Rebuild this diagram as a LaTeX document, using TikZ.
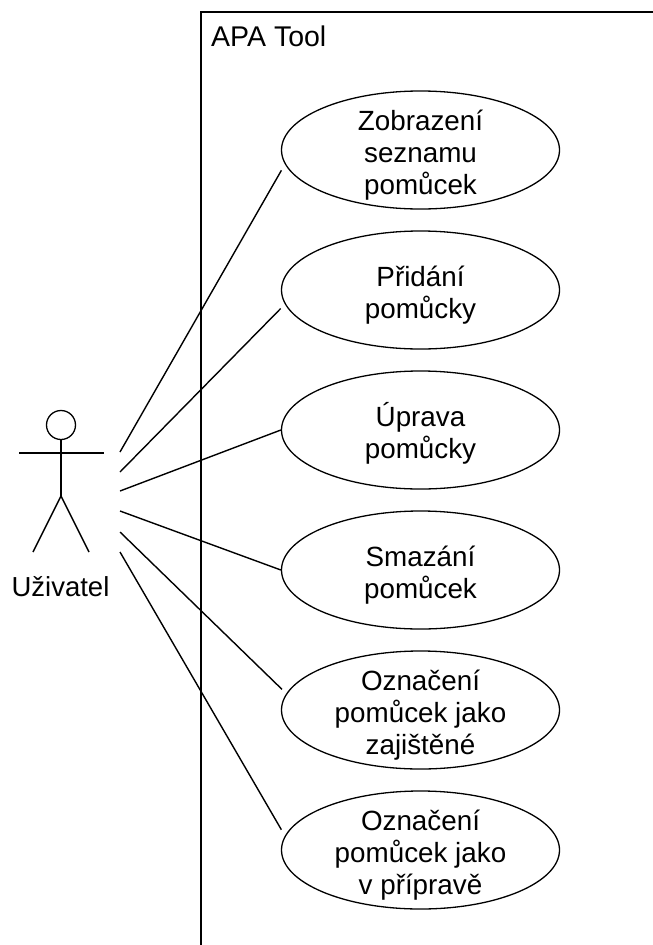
\documentclass[tikz,border=0pt]{standalone}
\usepackage{fontspec}
\setmainfont{Liberation Sans}
\usetikzlibrary{shapes.geometric}
\newcommand{\toprow}{\rule{0pt}{27pt}}
\tikzset{
	usecase/.style={draw, ellipse, line width=1.3pt, minimum width=278pt, minimum height=118pt, inner sep=0pt},
	uctext/.style={inner sep=0pt, yshift=-2pt, align=center, font=\fontsize{27.8}{32}\selectfont},
	assoc/.style={line width=1.4pt},
	limb/.style={line width=1.4pt}
}
\begin{document}
\begin{tikzpicture}[x=1pt, y=-1pt]
	\useasboundingbox (0, 0) rectangle (653, 945);
	\coordinate (BT) at (653, 12);
	\coordinate (BC) at (201, 12);
	\coordinate (BB) at (201, 945);
	\draw[line width=1.8pt] (BT) -- (BC) -- (BB);
	\node[anchor=base west, inner sep=0pt, font=\fontsize{28.5}{32}\selectfont] (tool)at(211, 46) {APA Tool};
	\node[usecase, label={[uctext]center:{\toprow Zobrazení\\seznamu\\pomůcek}}] (UC1)at(420.5, 150) {};
	\node[usecase, label={[uctext]center:{\toprow Přidání\\pomůcky}}] (UC2)at(420.5, 290) {};
	\node[usecase, label={[uctext]center:{\toprow Úprava\\pomůcky}}] (UC3)at(420.5, 430) {};
	\node[usecase, label={[uctext]center:{\toprow Smazání\\pomůcek}}] (UC4)at(420.5, 570) {};
	\node[usecase, label={[uctext]center:{\toprow Označení\\pomůcek jako\\zajištěné}}] (UC5)at(420.5, 710) {};
	\node[usecase, label={[uctext]center:{\toprow Označení\\pomůcek jako\\v přípravě}}] (UC6)at(420.5, 850) {};
	% actor
	\node[draw, circle, line width=1.3pt, minimum size=29pt, inner sep=0pt] (head)at(61, 425) {};
	\coordinate (hip) at (61, 496);
	\coordinate (armL) at (19, 453);
	\coordinate (armR) at (104, 453);
	\coordinate (footL) at (33, 552);
	\coordinate (footR) at (89, 552);
	\draw[limb] (head) -- (hip);
	\draw[limb] (armL) -- (armR);
	\draw[limb] (footL) -- (hip) -- (footR);
	\node[anchor=base, inner sep=0pt, font=\fontsize{27.5}{32}\selectfont] (user)at(60.5, 596) {Uživatel};
	% associations
	\coordinate (a1) at (120, 452);
	\coordinate (a2) at (120, 472);
	\coordinate (a3) at (120, 491);
	\coordinate (a4) at (120, 511);
	\coordinate (a5) at (120, 532);
	\coordinate (a6) at (120, 552);
	\draw[assoc, shorten >=7pt] (a1) -- (UC1.186);
	\draw[assoc, shorten >=6pt] (a2) -- (UC2.186.6);
	\draw[assoc] (a3) -- (UC3.west);
	\draw[assoc] (a4) -- (UC4.west);
	\draw[assoc, shorten >=6pt] (a5) -- (UC5.173.4);
	\draw[assoc, shorten >=7pt] (a6) -- (UC6.174);
\end{tikzpicture}
\end{document}
